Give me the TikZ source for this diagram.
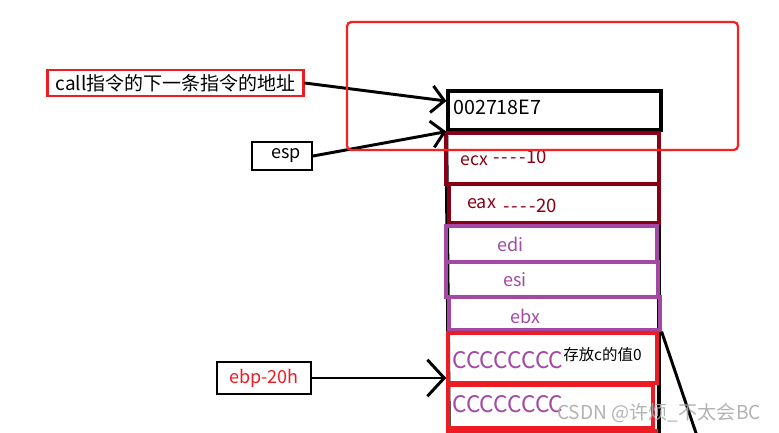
\documentclass[tikz,border=0pt]{standalone}
\usepackage{fontspec}
\setmainfont{Noto Sans CJK SC}
\usetikzlibrary{arrows.meta, positioning, fit}
\definecolor{myred}{RGB}{237,28,36}
\definecolor{myhl}{RGB}{250,32,32}
\definecolor{mydarkred}{RGB}{136,0,21}
\definecolor{mypurple}{RGB}{163,73,164}
\definecolor{mywm}{RGB}{170,170,170}
\newcommand{\dashrun}{-\kern1.6pt-\kern1.6pt-\kern1.6pt-\kern0.5pt}
\tikzset{
  cellblk/.style={rectangle, draw=black, inner sep=0pt, line width=2.3pt},
  cellmaroon/.style={rectangle, draw=mydarkred, inner sep=0pt, line width=2.3pt},
  cellpurple/.style={rectangle, draw=mypurple, inner sep=0pt, line width=2.3pt},
  cellred/.style={rectangle, draw=myred, inner sep=0pt, line width=2.5pt},
  tagbox/.style={rectangle, draw=black, inner sep=0pt, line width=1.5pt,
    font=\fontsize{12.8}{15}\selectfont},
  redtag/.style={tagbox, draw=myred, line width=2.1pt, font=\fontsize{13.5}{15}\selectfont},
  lbl/.style={inner sep=0pt, anchor=base west, font=\fontsize{12.8}{15}\selectfont},
  biglbl/.style={lbl, text=mypurple, font=\fontsize{16.2}{18}\selectfont},
  arrow/.style={-{Straight Barb[length=9pt, width=19pt]}, line width=2.1pt, color=black},
  line/.style={line width=2.1pt, color=black}
}

\begin{document}
\begin{tikzpicture}[x=0.025cm, y=-0.025cm]
  \useasboundingbox (0,0) rectangle (779,433);
  \fill[white] (0,0) rectangle (779,433);

  % stack sides
  \coordinate (sidel) at (449,440);
  \coordinate (sider) at (659,440);
  \coordinate (diagend) at (697,436);

  % stack cells
  \node[cellblk, fit={(448,91) (661,130)}] (ret) {};
  \draw[line, line width=2.6pt] (ret.south west) -- (sidel);
  \draw[line, line width=2.6pt] (ret.south east -| sider) -- (sider);
  \node[cellmaroon, fit={(446,133) (659,184)}] (ecx) {};
  \node[cellmaroon, fit={(449,184) (659,223)}] (eax) {};
  \node[cellpurple, fit={(446,226) (657,262)}] (edi) {};
  \node[cellpurple, fit={(446,262) (658,297)}] (esi) {};
  \node[cellpurple, fit={(449,297) (660,330)}] (ebx) {};
  \node[cellred, fit={(448,333) (657,383)}] (cvar) {};
  \node[cellred, fit={(448,385) (653,428)}] (cnext) {};
  \node[cellred, fit={(448,431) (656,470)}] (cmore) {};

  % cell texts
  \node[lbl, font=\fontsize{14}{16}\selectfont] (retlbl) at (453,115) {002718E7};
  \node[lbl, text=mydarkred, font=\fontsize{12.5}{15}\selectfont] (ecxlbl) at (460,166) {ecx};
  \node[lbl, text=mydarkred, font=\fontsize{13.2}{15}\selectfont] (ecxval) at (493,164) {\dashrun 10};
  \node[lbl, text=mydarkred] (eaxlbl) at (467,208) {eax};
  \node[lbl, text=mydarkred, font=\fontsize{13.2}{15}\selectfont] (eaxval) at (503,212) {\dashrun 20};
  \node[lbl, text=mypurple] (edilbl) at (497,252) {edi};
  \node[lbl, text=mypurple] (esilbl) at (503,287) {esi};
  \node[lbl, text=mypurple] (ebxlbl) at (510,323) {ebx};
  \node[biglbl] (cvarlbl) at (452,368) {CCCCCCCC};
  \node[lbl, font=\fontsize{11}{13}\selectfont] (cvarnote) at (563,361) {存放c的值0};
  \node[biglbl] (cnextlbl) at (452,412) {CCCCCCCC};

  % pointers
  \node[redtag, minimum width=6.38cm, minimum height=0.65cm] (calltag) at (175.5,83) {call指令的下一条指令的地址};
  \node[tagbox, minimum width=1.5cm, minimum height=0.7cm] (esptag) at (282,156) {\hspace{6pt}esp};
  \node[tagbox, line width=2pt, minimum width=2.35cm, minimum height=0.8cm, text=myred] (ebptag) at (264,378) {ebp-20h};

  \draw[arrow] (calltag.east) -- (ret.175);
  \draw[arrow] (esptag.east) -- (ret.south west);
  \draw[arrow, -{Straight Barb[length=12pt, width=26pt]}] (ebptag.east) -- (ebptag.east -| cvar.west);
  \draw[line] (ebx.south east) -- (diagend);

  % highlight frame
  \node[rectangle, draw=myhl, rounded corners=3pt, line width=1.6pt, inner sep=0pt,
    fit={(347,22) (738,150)}] (hl) {};

  \node[lbl, text=mywm, opacity=0.9, font=\fontsize{13.6}{16}\selectfont] (wm) at (557,419) {CSDN @许烦\_不太会BC};
\end{tikzpicture}
\end{document}
